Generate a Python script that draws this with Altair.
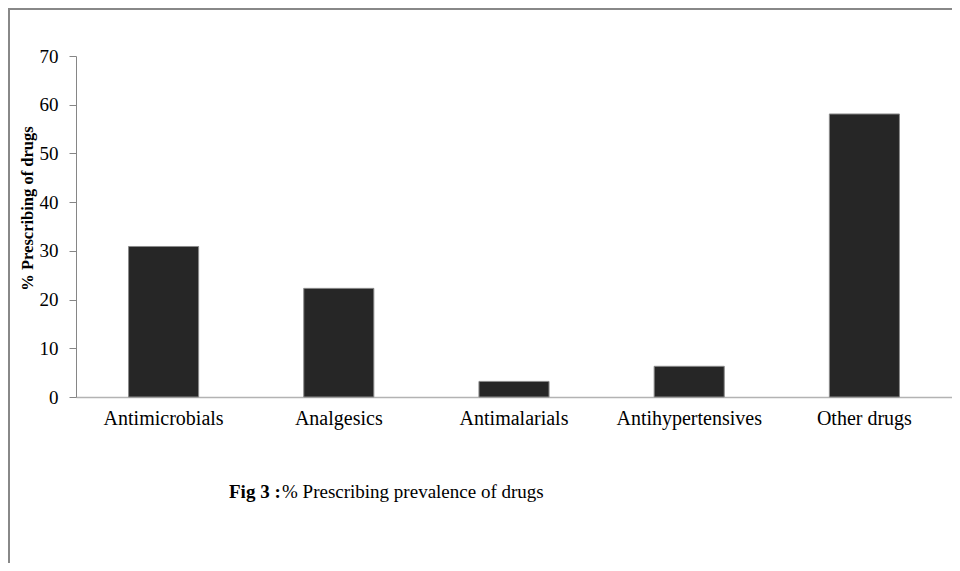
import altair as alt
import pandas as pd

categories = ["Antimicrobials", "Analgesics", "Antimalarials", "Antihypertensives", "Other drugs"]
values = [30.9, 22.3, 3.2, 6.3, 58.1]
y_title = "%  Prescribing of drugs"
caption_bold = "Fig 3 :"
caption_rest = "% Prescribing prevalence of drugs"

W, H = 876, 341
PAD = {"left": 68, "top": 48, "right": 0, "bottom": 166}
FONT = "Liberation Serif"

df = pd.DataFrame({"category": categories, "value": values})

bars = alt.Chart(df).mark_bar(color="#262626", stroke="#8a8a8a", strokeWidth=1).encode(
    x=alt.X("category:N", sort=categories, title=None,
            scale=alt.Scale(paddingInner=0.6, paddingOuter=0.3),
            axis=alt.Axis(labelAngle=0, ticks=False, labelFontSize=20, labelFont=FONT,
                          labelColor="#000000", labelPadding=11, domainColor="#b3b3b3",
                          domainWidth=1.5)),
    y=alt.Y("value:Q", title=y_title,
            scale=alt.Scale(domain=[0, 70]),
            axis=alt.Axis(values=[0, 10, 20, 30, 40, 50, 60, 70], grid=False, tickSize=7,
                          tickColor="#868686", domainColor="#868686", labelFontSize=19,
                          labelFont=FONT, labelColor="#000000", labelPadding=11,
                          titleFont=FONT, titleFontSize=16.5, titleFontWeight="bold",
                          titleColor="#000000", titleAngle=270, titleAlign="center",
                          titleBaseline="middle", titleX=-49, titleY=152)),
)

one = pd.DataFrame({"bold": [caption_bold], "rest": [caption_rest]})

cap1 = alt.Chart(one).mark_text(font=FONT, fontSize=19, fontWeight="bold", align="left",
                                baseline="alphabetic", color="#000000").encode(
    text="bold:N", x=alt.value(153), y=alt.value(442))
cap2 = alt.Chart(one).mark_text(font=FONT, fontSize=19, align="left",
                                baseline="alphabetic", color="#000000").encode(
    text="rest:N", x=alt.value(206), y=alt.value(442))

left_line = alt.Chart(one).mark_rule(color="#888888", strokeWidth=2).encode(
    x=alt.value(-PAD["left"] + 1), y=alt.value(-PAD["top"]), y2=alt.value(H + PAD["bottom"]))
top_line = alt.Chart(one).mark_rule(color="#888888", strokeWidth=2).encode(
    y=alt.value(-PAD["top"] + 1), x=alt.value(-PAD["left"]), x2=alt.value(W))

chart = alt.layer(bars, cap1, cap2, left_line, top_line).properties(
    width=W, height=H, padding=PAD,
    autosize=alt.AutoSizeParams(type="none"),
).configure(background="white").configure_view(stroke=None, strokeWidth=0)

chart.save("out.html", embed_options={"renderer": "svg", "actions": False})
